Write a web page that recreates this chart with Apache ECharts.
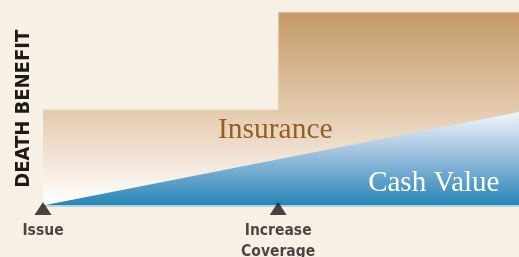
<!DOCTYPE html>
<html>
<head>
<meta charset="utf-8">
<script src="https://cdn.jsdelivr.net/npm/echarts@6/dist/echarts.min.js"></script>
<style>
html,body{margin:0;padding:0;background:#f7f0e4;}
#chart{width:519px;height:257px;}
</style>
</head>
<body>
<div id="chart"></div>
<script>
// Data
const timePoints = [0, 49.4, 49.4, 100];
const deathBenefit = [49.4, 49.4, 100, 100];
const cashTime = [0, 100];
const cashValue = [0, 48.3];
const milestoneTimes = [0, 49.4];
const milestoneLabels = ['Issue', 'Increase\nCoverage'];
const yAxisTitle = 'DEATH BENEFIT';
const areaLabels = [
  { name: 'Insurance', coord: [48.8, 38.8] },
  { name: 'Cash Value', coord: [82.1, 11.4] }
];

const chart = echarts.init(document.getElementById('chart'), null, { renderer: 'canvas' });
const boldFont = '"Liberation Sans Narrow", "DejaVu Sans Condensed", "Roboto", sans-serif';
const serifFont = '"Liberation Serif", "DejaVu Serif", serif';

chart.setOption({
  backgroundColor: '#f7f0e4',
  animation: false,
  grid: { left: 43, right: 0, top: 12, bottom: 51.5 },
  xAxis: {
    type: 'value', min: 0, max: 100,
    axisLine: { show: true, lineStyle: { color: '#a6cbe0', width: 1.5 } },
    axisTick: { show: false }, axisLabel: { show: false }, splitLine: { show: false }
  },
  yAxis: {
    type: 'value', min: 0, max: 100,
    name: yAxisTitle, nameLocation: 'middle', nameRotate: 90, nameGap: 9,
    nameTextStyle: { fontFamily: boldFont, fontWeight: 'bold', fontSize: 20, color: '#1e1a1b' },
    axisLine: { show: false }, axisTick: { show: false }, axisLabel: { show: false }, splitLine: { show: false }
  },
  series: [
    {
      name: 'Insurance', type: 'line', symbol: 'none',
      data: timePoints.map((t, i) => [t, deathBenefit[i]]),
      lineStyle: { color: '#e9d7c1', width: 1 },
      areaStyle: {
        opacity: 1,
        color: new echarts.graphic.LinearGradient(0, 0, 0, 1, [
          { offset: 0, color: '#c6996a' },
          { offset: 0.5, color: '#e3c9ab' },
          { offset: 1, color: '#ffffff' }
        ])
      },
      markPoint: {
        symbol: 'circle', symbolSize: 0,
        label: { show: true, position: 'inside', formatter: p => p.name, fontFamily: serifFont, fontSize: 29.5, color: '#955f22' },
        data: [areaLabels[0]]
      },
      z: 1
    },
    {
      name: 'Cash Value', type: 'line', symbol: 'none',
      data: cashTime.map((t, i) => [t, cashValue[i]]),
      lineStyle: { width: 0 },
      areaStyle: {
        opacity: 1,
        color: new echarts.graphic.LinearGradient(0, 0, 0, 1, [
          { offset: 0, color: '#f2f6fb' },
          { offset: 0.4, color: '#a6c6e2' },
          { offset: 1, color: '#2584b5' }
        ])
      },
      markPoint: {
        symbol: 'circle', symbolSize: 0,
        label: { show: true, position: 'inside', formatter: p => p.name, fontFamily: serifFont, fontSize: 29, color: '#ffffff' },
        data: [areaLabels[1]]
      },
      z: 2
    },
    {
      name: 'Milestones', type: 'scatter', clip: false,
      symbol: 'triangle', symbolSize: [17, 13], symbolOffset: [0, 3],
      itemStyle: { color: '#1a1617' },
      data: milestoneTimes.map((t, i) => ({ value: [t, 0], name: milestoneLabels[i] })),
      label: {
        show: true, position: 'bottom', distance: 5, formatter: p => p.name,
        fontFamily: boldFont, fontWeight: 'bold', fontSize: 15.5, lineHeight: 21, color: '#1e1a1b'
      },
      z: 5
    }
  ]
});
</script>
</body>
</html>
